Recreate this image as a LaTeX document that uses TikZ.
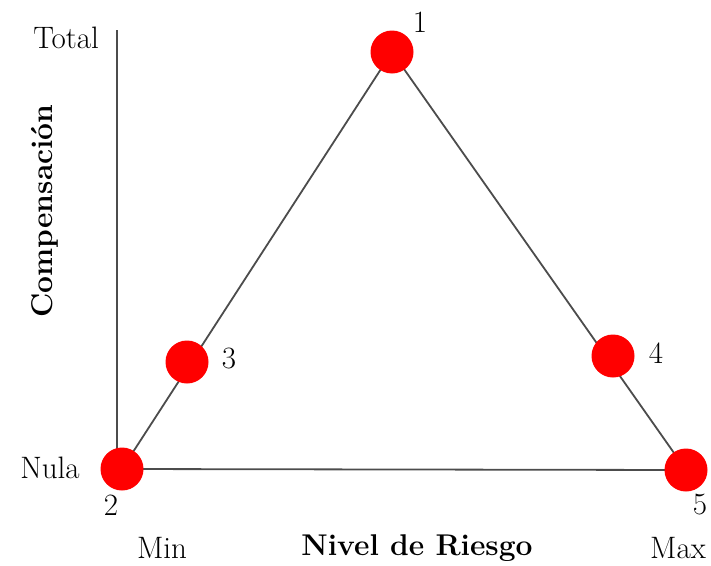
\documentclass[tikz,border=0pt]{standalone}
\usepackage{fontspec}
\usetikzlibrary{backgrounds}
\begin{document}
\begin{tikzpicture}[x=1pt,y=-1pt,
  dot/.style={circle,fill=red,draw=none,minimum size=43pt,inner sep=0pt},
  lbl/.style={font=\fontsize{31}{33}\selectfont,inner sep=0pt},
  blbl/.style={font=\fontsize{30}{32}\selectfont\bfseries,inner sep=0pt},
  axis/.style={draw=black!70,line width=1.8pt}]
\useasboundingbox (0,0) rectangle (711,565);
\node[dot] (n1) at (392,52) {};
\node[dot] (n2) at (122,469) {};
\node[dot] (n3) at (187,362) {};
\node[dot] (n4) at (613,356) {};
\node[dot] (n5) at (686,470) {};
\coordinate (top) at (117,30);
\begin{scope}[on background layer]
\draw[axis] (top) -- (top |- n2);
\draw[axis] (n2.center) -- (n1.center) -- (n5.center);
\draw[axis] (n2.center) -- (n5.center);
\end{scope}
\node[lbl] (t1) at (420,22) {1};
\node[lbl] (t2) at (111,505) {2};
\node[lbl] (t3) at (229,358) {3};
\node[lbl] (t4) at (656,353) {4};
\node[lbl] (t5) at (700,505) {5};
\node[lbl] (total) at (66,38) {Total};
\node[lbl] (nula) at (50,468) {Nula};
\node[lbl] (min) at (162,548) {Min};
\node[lbl] (max) at (678,548) {Max};
\node[blbl] (xl) at (417,548) {Nivel de Riesgo};
\node[blbl,rotate=90] (yl) at (45,211) {Compensación};
\end{tikzpicture}
\end{document}
